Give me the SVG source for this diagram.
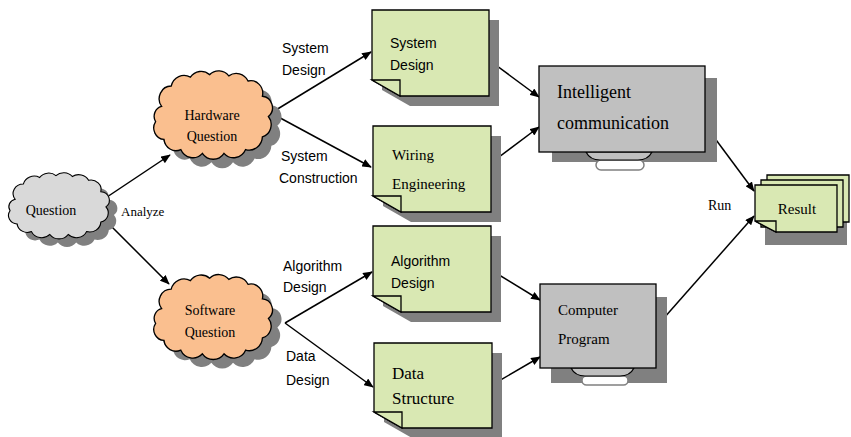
<svg xmlns="http://www.w3.org/2000/svg" width="851" height="437" viewBox="0 0 851 437">
<defs>
<style>
.serif{font-family:"Liberation Serif","Times New Roman",serif;fill:#000}
.sans{font-family:"Liberation Sans",Arial,sans-serif;fill:#000}
.note{fill:#D9E8B3;stroke:#000;stroke-width:1.3}
.shadow{fill:#808080}
.mon{fill:#C0C0C0;stroke:#000;stroke-width:1.3}
.edge{stroke:#000;stroke-width:1.5;fill:none;marker-end:url(#ah)}
.cl{stroke:#000;stroke-width:1.1}
</style>
<marker id="ah" viewBox="0 0 12 10" refX="11" refY="5" markerWidth="10" markerHeight="8" orient="auto" markerUnits="userSpaceOnUse">
<path d="M0,0 L12,5 L0,10 Z" fill="#000"/>
</marker>
<path id="cloud" d="M -42,-6 A 10 10 0 0 1 -34,-22 A 11 11 0 0 1 -18,-29 A 11 11 0 0 1 -2,-31 A 11 11 0 0 1 14,-30 A 11 11 0 0 1 30,-26 A 10 10 0 0 1 42,-14 A 9 9 0 0 1 47,2 A 10 10 0 0 1 42,18 A 11 11 0 0 1 28,28 A 11 11 0 0 1 10,31 A 11 11 0 0 1 -8,31 A 11 11 0 0 1 -26,28 A 10 10 0 0 1 -40,20 A 9 9 0 0 1 -47,6 A 8 8 0 0 1 -42,-6 Z"/>
</defs>
<rect width="851" height="437" fill="#fff"/>

<g id="connectors">
<line class="edge" x1="107" y1="197" x2="170" y2="155"/>
<line class="edge" x1="110" y1="225" x2="169" y2="284"/>
<line class="edge" x1="271" y1="113" x2="371" y2="52"/>
<line class="edge" x1="271" y1="113" x2="371" y2="167"/>
<line class="edge" x1="285" y1="323" x2="372" y2="272"/>
<line class="edge" x1="285" y1="323" x2="373" y2="387"/>
<line class="edge" x1="489" y1="60" x2="539" y2="97"/>
<line class="edge" x1="491" y1="163" x2="539" y2="127"/>
<line class="edge" x1="491" y1="270" x2="540" y2="300"/>
<line class="edge" x1="492" y1="385" x2="540" y2="357"/>
<line class="edge" x1="705" y1="125" x2="754" y2="191"/>
<line class="edge" x1="656" y1="327" x2="754" y2="216"/>
<text class="serif" x="121" y="216" font-size="13">Analyze</text>
<text class="sans" x="282" y="53" font-size="14">System</text>
<text class="sans" x="282" y="75" font-size="14">Design</text>
<text class="sans" x="281" y="161" font-size="14">System</text>
<text class="sans" x="279" y="183" font-size="14">Construction</text>
<text class="sans" x="283" y="271" font-size="14">Algorithm</text>
<text class="sans" x="283" y="292" font-size="14">Design</text>
<text class="sans" x="286" y="361" font-size="14">Data</text>
<text class="sans" x="286" y="385" font-size="14">Design</text>
<text class="serif" x="708" y="210" font-size="14">Run</text>
</g>

<g id="question">
<use href="#cloud" class="shadow" transform="translate(66,213) scale(1.02,0.95)"/>
<use href="#cloud" fill="#D9D9D9" class="cl" transform="translate(58,205) scale(1.02,0.95)"/>
<text class="serif" x="51" y="215" font-size="14" text-anchor="middle">Question</text>
</g>

<g id="hardware">
<use href="#cloud" class="shadow" transform="translate(221,123) scale(1.2,1.27)"/>
<use href="#cloud" fill="#FABF8F" class="cl" transform="translate(212,114) scale(1.2,1.27)"/>
<text class="serif" x="212" y="120" font-size="14" text-anchor="middle">Hardware</text>
<text class="serif" x="212" y="141" font-size="14" text-anchor="middle">Question</text>
</g>

<g id="software">
<use href="#cloud" class="shadow" transform="translate(221,325) scale(1.2,1.22)"/>
<use href="#cloud" fill="#FABF8F" class="cl" transform="translate(212,316) scale(1.2,1.22)"/>
<text class="serif" x="210" y="315" font-size="14" text-anchor="middle">Software</text>
<text class="serif" x="210" y="337" font-size="14" text-anchor="middle">Question</text>
</g>

<g id="system-design">
<path class="shadow" d="M382,20 H499 V106 H410 L382,90 Z"/>
<path class="note" d="M372,10 H489 V96 H400 L372,80 Z"/>
<path class="note" d="M372,80 H400 V96 Z"/>
<text class="sans" x="390" y="48" font-size="14">System</text>
<text class="sans" x="390" y="70" font-size="14">Design</text>
</g>

<g id="wiring-engineering">
<path class="shadow" d="M383,136 H501 V222 H411 L383,206 Z"/>
<path class="note" d="M373,126 H491 V212 H401 L373,196 Z"/>
<path class="note" d="M373,196 H401 V212 Z"/>
<text class="serif" x="392" y="160" font-size="15">Wiring</text>
<text class="serif" x="392" y="189" font-size="15">Engineering</text>
</g>

<g id="algorithm-design">
<path class="shadow" d="M383,236 H501 V322 H411 L383,306 Z"/>
<path class="note" d="M373,226 H491 V312 H401 L373,296 Z"/>
<path class="note" d="M373,296 H401 V312 Z"/>
<text class="sans" x="391" y="266" font-size="14">Algorithm</text>
<text class="sans" x="391" y="288" font-size="14">Design</text>
</g>

<g id="data-structure">
<path class="shadow" d="M384,353 H502 V438 H412 L384,422 Z"/>
<path class="note" d="M374,343 H492 V428 H402 L374,412 Z"/>
<path class="note" d="M374,412 H402 V428 Z"/>
<text class="serif" x="392" y="379" font-size="17">Data</text>
<text class="serif" x="392" y="404" font-size="17">Structure</text>
</g>

<g id="intelligent-communication">
<rect class="shadow" x="552" y="78" width="165" height="84"/>
<rect x="596" y="160" width="48" height="10" rx="5" fill="#fff" stroke="#808080" stroke-width="1.5"/>
<path d="M586,152 Q590,160 600,160 H638 Q648,160 652,152 Z" fill="#C0C0C0" stroke="#000" stroke-width="1.2"/>
<rect class="mon" x="539" y="66" width="166" height="86"/>
<text class="serif" x="557" y="98" font-size="18">Intelligent</text>
<text class="serif" x="557" y="129" font-size="18">communication</text>
</g>

<g id="computer-program">
<rect class="shadow" x="551" y="297" width="116" height="86"/>
<rect x="582" y="376" width="46" height="9" rx="4.5" fill="#fff" stroke="#808080" stroke-width="1.5"/>
<path d="M571,368 Q575,376 585,376 H620 Q630,376 634,368 Z" fill="#C0C0C0" stroke="#000" stroke-width="1.2"/>
<rect class="mon" x="540" y="284" width="116" height="84"/>
<text class="serif" x="558" y="315" font-size="15">Computer</text>
<text class="serif" x="558" y="344" font-size="15">Program</text>
</g>

<g id="result">
<rect class="shadow" x="765" y="195" width="82" height="50"/>
<path class="note" d="M767,175 H849 V222 H767 Z"/>
<path class="note" d="M761,180 H843 V227 H761 Z"/>
<path class="note" d="M755,185 H837 V232 H776 L755,221 Z"/>
<path class="note" d="M755,221 H776 V232 Z"/>
<text class="serif" x="797" y="214" font-size="15" text-anchor="middle">Result</text>
</g>
</svg>
